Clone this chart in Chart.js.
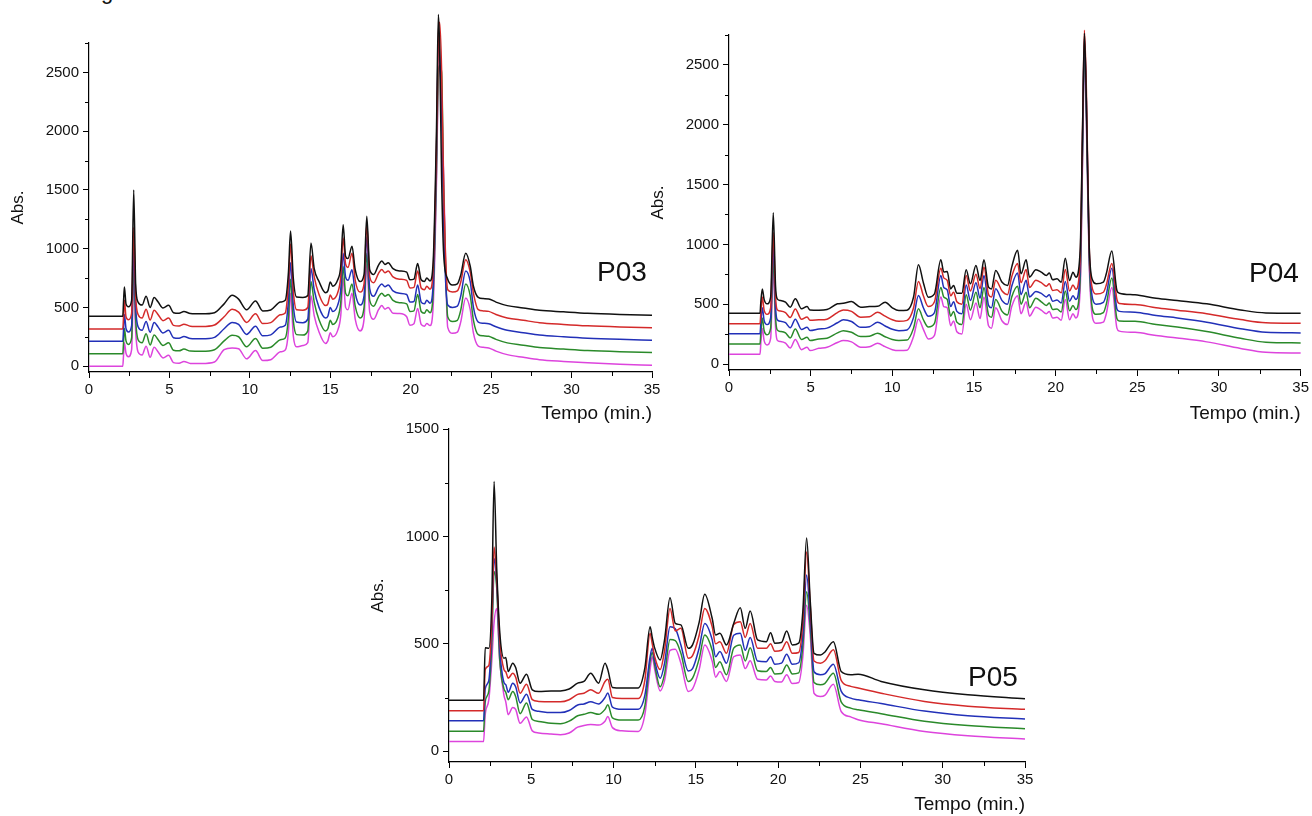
<!DOCTYPE html>
<html><head><meta charset="utf-8">
<script src="https://cdn.jsdelivr.net/npm/chart.js@4.4.1/dist/chart.umd.min.js"></script>
<style>
html,body{margin:0;padding:0;background:#fff;}
body{width:1312px;height:816px;position:relative;overflow:hidden;font-family:"Liberation Sans",Arial,sans-serif;color:#111;}
canvas{position:absolute;}
.lbl{position:absolute;font-size:28px;line-height:28px;white-space:nowrap;}
</style></head>
<body>
<div class="lbl" style="left:101px;top:-19px;font-size:22px;line-height:22px;">g</div>
<canvas id="c3" width="670" height="425" style="left:0px;top:0px;width:670px;height:425px;"></canvas>
<canvas id="c4" width="672" height="425" style="left:640px;top:0px;width:672px;height:425px;"></canvas>
<canvas id="c5" width="680" height="411" style="left:360px;top:405px;width:680px;height:411px;"></canvas>
<div class="lbl" style="left:597px;top:258px;">P03</div>
<div class="lbl" style="left:1249px;top:259px;">P04</div>
<div class="lbl" style="left:968px;top:663px;">P05</div>
<script>
// ---- axis ticks ----
const xTicks = [0,5,10,15,20,25,30,35];
const xMinor = [2.5,7.5,12.5,17.5,22.5,27.5,32.5];
const bigYTicks = [0,500,1000,1500,2000,2500];
const bigYMinor = [250,750,1250,1750,2250,2750];
const p05YTicks = [0,500,1000,1500];
const p05YMinor = [250,750,1250];
const seriesColors = ['#111111','#d42a2a','#2230b8','#2a8a2a','#dd44dd'];

// ---- P03 ----
const p03Time = [0,2.1,2.15,2.2,2.3,2.45,2.65,2.78,2.9,3.05,
3.3,3.55,3.8,4.05,4.3,4.6,4.95,5.25,5.6,5.9,
6.3,7.0,7.8,8.4,8.9,9.3,9.8,10.35,10.8,11.3,
11.9,12.2,12.4,12.53,12.7,12.9,13.3,13.6,13.8,14.0,
14.3,14.7,14.85,15.0,15.15,15.45,15.65,15.8,15.95,16.1,
16.35,16.55,16.85,17.1,17.27,17.45,17.7,18.0,18.2,18.4,
18.6,18.9,19.3,19.75,19.95,20.2,20.43,20.65,20.85,21.0,
21.2,21.4,21.6,21.72,21.8,21.92,22.05,22.3,22.6,22.9,
23.1,23.42,23.7,23.9,24.2,24.5,24.85,25.3,26.0,27.0,
28.0,29.5,31.0,33.0,35.0];
const p03Black = [425,425,560,674,530,505,560,1500,700,545,
520,595,500,584,545,495,518,455,450,465,
448,445,455,530,603,570,480,555,470,478,
545,560,800,1150,750,589,585,600,1048,830,
720,625,640,717,680,730,850,1204,935,915,
1020,820,720,780,1275,820,780,860,895,865,
880,830,810,800,735,740,873,735,720,750,
725,900,2000,2992,2700,1600,950,740,690,700,
770,960,850,680,585,575,572,545,515,495,
475,462,450,440,433];
const p03Red = [317,317,430,560,420,395,450,1180,600,440,
410,485,392,476,437,387,410,347,342,357,
340,337,350,420,484,460,372,445,362,370,
437,452,700,1040,640,480,476,500,940,760,
610,515,530,605,570,620,760,1090,870,840,
960,730,630,700,1210,760,710,790,822,795,
810,760,740,730,665,670,810,665,650,680,
655,830,1850,2800,2927,2520,1500,650,630,640,
710,905,800,620,480,470,466,440,410,390,
370,355,343,333,326];
const p03Blue = [212,212,320,440,320,290,345,1000,500,335,
305,380,288,372,332,282,305,242,237,252,
235,232,245,318,372,355,270,340,258,266,
332,347,560,880,520,375,370,400,830,650,
500,410,425,500,465,515,650,960,760,730,
820,620,520,600,1100,660,595,670,700,675,
690,640,620,610,545,550,690,545,530,560,
535,710,1800,2771,2650,2200,1200,520,500,510,
590,810,720,500,375,365,360,335,305,285,
265,250,238,228,221];
const p03Green = [105,105,210,320,215,185,240,880,400,225,
200,275,180,265,225,175,198,135,130,145,
128,126,140,215,262,250,165,235,152,160,
225,240,420,740,390,268,264,300,720,545,
395,300,318,390,355,405,540,850,620,600,
700,510,410,500,960,560,510,590,620,595,
610,560,540,530,465,470,610,465,450,480,
455,630,1650,2500,2560,2500,1500,420,380,390,
470,700,600,390,268,258,254,228,198,178,
158,145,133,123,116];
const p03Magenta = [0,0,100,200,110,80,140,760,300,120,
95,170,75,160,120,70,93,30,25,40,
23,22,35,140,155,148,62,132,48,55,
122,137,300,620,260,164,175,200,600,430,
290,193,215,285,250,300,430,750,500,480,
620,400,300,400,870,460,400,480,515,485,
500,450,448,420,348,360,490,355,340,363,
345,520,1550,2450,2544,2300,1600,330,280,290,
370,580,480,280,170,160,155,128,98,75,
55,40,28,16,8];

// ---- P04 ----
const p04Time = [0,1.9,1.95,2.04,2.15,2.33,2.55,2.71,2.85,2.95,
3.15,3.46,3.75,4.06,4.44,4.78,4.96,5.5,6.0,6.64,
7.0,7.5,8.06,8.6,9.1,9.56,10.0,10.4,10.9,11.3,
11.6,11.9,12.2,12.58,12.97,13.15,13.36,13.57,13.75,13.95,
14.26,14.52,14.78,15.12,15.37,15.61,15.89,16.07,16.33,16.72,
17.05,17.31,17.67,17.88,18.19,18.4,18.79,19.12,19.43,19.61,
19.82,20.08,20.34,20.59,20.85,21.06,21.24,21.5,21.65,21.76,
21.88,22.05,22.27,22.48,22.92,23.1,23.44,23.75,23.9,24.86,
26.15,27.44,29.25,31.32,32.87,35];
const p04Black = [425,425,520,628,540,503,560,1265,650,545,
531,517,475,545,461,480,452,450,455,503,
508,522,475,480,482,517,470,447,450,560,
830,680,559,587,871,770,774,628,656,592,
592,788,670,824,698,871,642,628,782,684,
656,810,950,754,871,726,788,768,740,760,
704,712,684,885,698,768,726,950,2000,2765,
2200,1000,698,670,684,754,944,614,592,578,
550,531,503,452,427,425];
const p04Red = [337,337,430,560,450,415,470,1100,560,455,
443,430,388,460,374,393,365,369,375,430,
452,440,391,395,433,400,370,357,365,470,
690,570,480,520,800,720,700,570,600,520,
500,740,610,750,630,810,580,560,700,610,
580,730,840,680,790,640,700,680,650,670,
615,620,595,790,610,660,625,870,2000,2790,
2300,1000,620,585,600,660,840,540,505,497,
470,450,420,372,345,341];
const p04Blue = [252,252,345,470,365,330,385,980,475,370,
358,345,303,375,289,308,280,293,300,345,
369,355,307,312,349,318,290,279,285,390,
573,470,400,430,740,640,620,480,520,440,
420,660,530,680,550,740,490,470,630,530,
500,650,760,580,700,560,606,590,560,580,
525,535,510,690,525,570,540,790,1900,2720,
2200,950,540,500,515,580,800,460,440,433,
405,385,350,295,265,260];
const p04Green = [168,168,260,385,280,245,300,880,390,285,
272,260,218,292,205,224,196,209,215,260,
279,265,229,232,257,228,205,196,200,300,
461,370,310,340,640,560,540,400,440,350,
330,580,450,600,470,640,410,390,540,440,
410,560,650,500,600,470,550,520,490,510,
455,460,435,610,445,490,455,700,1800,2660,
2100,900,450,415,430,500,720,380,360,357,
330,310,272,215,182,176];
const p04Magenta = [82,82,175,300,195,160,215,780,305,200,
188,175,133,205,120,140,112,131,140,180,
196,185,140,145,173,145,120,112,115,230,
377,290,210,240,560,480,470,320,360,270,
250,500,370,510,380,560,320,300,470,360,
330,480,570,420,520,400,475,450,420,440,
385,390,365,540,370,420,385,620,1700,2620,
2000,850,380,340,350,420,640,300,275,265,
238,218,185,130,98,92];

// ---- P05 ----
const p05Time = [0,2.1,2.2,2.42,2.6,2.74,2.9,3.08,3.34,3.45,
3.6,3.87,4.05,4.32,4.71,5.06,5.45,6.2,6.77,7.3,
7.82,8.2,8.61,9.09,9.48,9.65,9.93,10.5,11.5,11.9,
12.22,12.35,12.5,12.83,13.1,13.43,13.75,14.09,14.54,14.8,
15.2,15.54,15.99,16.2,16.46,16.86,17.3,17.7,18.0,18.3,
18.75,19.28,19.54,19.8,20.2,20.52,20.86,21.25,21.5,21.73,
21.95,22.18,22.57,22.83,23.36,23.83,24.41,24.86,26.26,28.89,
31.53,35];
const p05Black = [237,237,482,479,700,1256,850,560,433,436,
371,410,390,317,359,286,278,280,281,290,
317,325,363,317,410,380,297,294,295,387,
580,530,480,425,520,714,595,588,479,495,
600,731,619,541,549,495,595,668,572,653,
518,510,552,503,506,560,495,503,650,993,
700,456,448,461,510,371,356,359,325,286,
263,244];
const p05Red = [189,189,380,400,600,951,800,520,380,370,
340,363,345,270,312,240,232,230,230,240,
265,270,286,270,325,335,250,245,245,330,
549,500,440,380,470,665,560,572,433,445,
540,665,580,500,510,456,590,603,530,595,
480,479,500,465,470,510,456,460,600,928,
680,420,410,420,472,330,302,294,270,232,
210,195];
const p05Blue = [142,142,290,330,560,897,780,480,320,310,
275,317,300,225,265,195,186,180,180,190,
215,220,230,220,250,271,205,195,195,260,
440,479,420,340,410,580,570,495,374,385,
480,595,520,440,464,410,540,549,470,529,
420,417,440,405,410,452,405,412,540,820,
620,370,356,360,405,280,247,240,222,187,
165,150];
const p05Green = [93,93,230,280,500,835,760,430,290,275,
240,278,255,175,225,148,139,130,128,140,
165,172,180,172,195,216,155,145,145,210,
420,460,400,300,360,520,515,456,325,340,
430,541,470,390,417,356,480,495,420,482,
375,371,390,360,362,402,360,365,490,742,
580,320,309,315,363,230,201,193,175,140,
120,105];
const p05Magenta = [45,45,170,240,420,600,665,420,260,230,
170,204,195,130,160,95,85,80,77,85,
112,120,124,122,140,162,110,95,92,170,
380,440,380,281,330,470,475,410,278,290,
380,495,420,345,371,325,440,448,385,421,
335,332,350,325,322,356,315,320,440,680,
540,270,255,260,312,185,160,147,128,92,
72,57];

Chart.defaults.font.family = '"Liberation Sans", Arial, Helvetica, sans-serif';
Chart.defaults.color = '#111';

const minorTicks = {
  id: 'minorTicks',
  afterDraw(chart, args, opts) {
    const ctx = chart.ctx, a = chart.chartArea, sx = chart.scales.x, sy = chart.scales.y;
    ctx.save();
    ctx.strokeStyle = '#000';
    ctx.lineWidth = 1;
    ctx.beginPath();
    (opts.x || []).forEach(v => {
      const px = Math.round(sx.getPixelForValue(v)) + 0.5;
      ctx.moveTo(px, a.bottom); ctx.lineTo(px, a.bottom + 4);
    });
    (opts.y || []).forEach(v => {
      const py = Math.round(sy.getPixelForValue(v)) + 0.5;
      ctx.moveTo(a.left, py); ctx.lineTo(a.left - 4, py);
    });
    ctx.stroke();
    ctx.restore();
  }
};

function makeChart(id, time, series, cfg) {
  const datasets = series.map((s, i) => ({
    data: time.map((t, k) => ({ x: t, y: s[k] })),
    borderColor: seriesColors[i],
    borderWidth: 1.5,
    pointRadius: 0,
    fill: false,
    cubicInterpolationMode: 'monotone',
    clip: false
  }));
  return new Chart(document.getElementById(id), {
    type: 'line',
    data: { datasets },
    options: {
      responsive: false,
      animation: false,
      devicePixelRatio: 1,
      layout: { padding: { left: 0, top: cfg.top, right: cfg.right, bottom: 0 } },
      plugins: {
        legend: { display: false },
        tooltip: { enabled: false },
        minorTicks: { x: xMinor, y: cfg.yMinor }
      },
      scales: {
        x: {
          type: 'linear', min: 0, max: 35,
          afterBuildTicks: s => { s.ticks = xTicks.map(v => ({ value: v })); },
          afterFit: s => { s.height = cfg.xh; },
          grid: { drawOnChartArea: false, drawTicks: true, tickLength: 6, color: '#000' },
          border: { display: true, color: '#000', width: 1.2 },
          ticks: { autoSkip: false, maxRotation: 0, padding: 3, font: { size: 15 }, color: '#111', callback: v => String(v) },
          title: { display: true, text: 'Tempo (min.)', align: 'end', font: { size: 19 }, color: '#111', padding: { top: 0, bottom: 0 } }
        },
        y: {
          type: 'linear', min: cfg.ymin, max: cfg.ymax,
          afterBuildTicks: s => { s.ticks = cfg.yTicks.map(v => ({ value: v })); },
          afterFit: s => { s.width = 89; },
          grid: { drawOnChartArea: false, drawTicks: true, tickLength: 6, color: '#000' },
          border: { display: true, color: '#000', width: 1.2 },
          ticks: { autoSkip: false, padding: 4, font: { size: 15 }, color: '#111', callback: v => String(v) },
          title: { display: true, text: 'Abs.', font: { size: 17 }, color: '#111', padding: { top: 8, bottom: 0 } }
        }
      }
    },
    plugins: [minorTicks]
  });
}

makeChart('c3', p03Time, [p03Black, p03Red, p03Blue, p03Green, p03Magenta],
  { top: 43, right: 18, xh: 53, ymin: -50, ymax: 2750, yTicks: bigYTicks, yMinor: bigYMinor });
makeChart('c4', p04Time, [p04Black, p04Red, p04Blue, p04Green, p04Magenta],
  { top: 35, right: 10, xh: 55, ymin: -50, ymax: 2750, yTicks: bigYTicks, yMinor: bigYMinor });
makeChart('c5', p05Time, [p05Black, p05Red, p05Blue, p05Green, p05Magenta],
  { top: 24, right: 15, xh: 54, ymin: -50, ymax: 1500, yTicks: p05YTicks, yMinor: p05YMinor });
</script>
</body></html>
